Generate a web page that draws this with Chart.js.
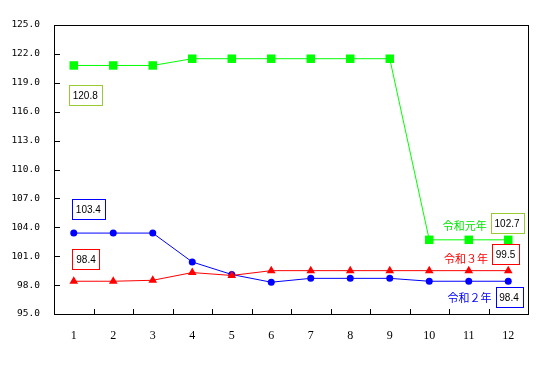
<!DOCTYPE html>
<html>
<head>
<meta charset="utf-8">
<script src="https://cdn.jsdelivr.net/npm/chart.js@4"></script>
<style>
  html, body { margin: 0; padding: 0; background: #fff; }
  #wrap { width: 547px; height: 375px; }
</style>
</head>
<body>
<div id="wrap"><canvas id="myLineChart"></canvas></div>
<script>
// data
var months = ['1', '2', '3', '4', '5', '6', '7', '8', '9', '10', '11', '12'];
var reiwa1 = [120.8, 120.8, 120.8, 121.5, 121.5, 121.5, 121.5, 121.5, 121.5, 102.7, 102.7, 102.7];
var reiwa2 = [103.4, 103.4, 103.4, 100.4, 99.1, 98.3, 98.7, 98.7, 98.7, 98.4, 98.4, 98.4];
var reiwa3 = [98.4, 98.4, 98.5, 99.3, 99.0, 99.5, 99.5, 99.5, 99.5, 99.5, 99.5, 99.5];
var yMin = 95, yMax = 125, yStep = 3;

// value boxes and series names, anchored in data units (category index, value)
var valueBoxes = [
  { text: '120.8', x: 0.29, y: 117.7, color: '#99cc33' },
  { text: '103.4', x: 0.37, y: 105.9, color: '#0000ff' },
  { text: '98.4', x: 0.31, y: 100.7, color: '#ff0000' },
  { text: '102.7', x: 10.97, y: 104.45, color: '#99cc33' },
  { text: '99.5', x: 10.93, y: 101.18, color: '#ff0000' },
  { text: '98.4', x: 11.02, y: 96.76, color: '#0000ff' }
];
var seriesNames = [
  { text: '令和元年', x: 9.9, y: 104.14, color: '#00e600' },
  { text: '令和３年', x: 9.93, y: 100.71, color: '#ff0000' },
  { text: '令和２年', x: 10.02, y: 96.66, color: '#0000ff' }
];

// frame, inward tick marks and the text boxes
var framePlugin = {
  id: 'frame',
  afterDraw: function(chart) {
    var ctx = chart.ctx, a = chart.chartArea;
    var xs = chart.scales.x, ys = chart.scales.y;
    ctx.save();
    ctx.strokeStyle = '#000';
    ctx.lineWidth = 1;
    ctx.strokeRect(Math.round(a.left) + 0.5, Math.round(a.top) + 0.5,
      Math.round(a.right - a.left), Math.round(a.bottom - a.top));
    ctx.beginPath();
    ys.ticks.forEach(function(t) {
      var py = Math.round(ys.getPixelForValue(t.value)) + 0.5;
      ctx.moveTo(a.left, py);
      ctx.lineTo(a.left + 6, py);
    });
    for (var i = 1; i < months.length; i++) {
      var px = Math.round((xs.getPixelForTick(i - 1) + xs.getPixelForTick(i)) / 2) + 0.5;
      ctx.moveTo(px, a.bottom);
      ctx.lineTo(px, a.bottom - 5);
    }
    ctx.stroke();

    ctx.textAlign = 'center';
    ctx.textBaseline = 'middle';
    ctx.font = '10px "Liberation Sans", Arial, sans-serif';
    valueBoxes.forEach(function(b) {
      var cx = xs.getPixelForValue(b.x), cy = ys.getPixelForValue(b.y);
      var w = Math.round(ctx.measureText(b.text).width + 8), h = 20;
      var bx = Math.round(cx - w / 2) + 0.5, by = Math.round(cy - h / 2) + 0.5;
      ctx.fillStyle = '#fff';
      ctx.fillRect(bx, by, w, h);
      ctx.strokeStyle = b.color;
      ctx.strokeRect(bx, by, w, h);
      ctx.fillStyle = '#000';
      ctx.fillText(b.text, cx, cy + 1);
    });
    ctx.font = '11px "Noto Sans CJK JP", sans-serif';
    seriesNames.forEach(function(s) {
      ctx.fillStyle = s.color;
      ctx.fillText(s.text, xs.getPixelForValue(s.x), ys.getPixelForValue(s.y));
    });
    ctx.restore();
  }
};

document.addEventListener('DOMContentLoaded', function() {
  var ctx = document.getElementById('myLineChart');
  new Chart(ctx, {
    type: 'line',
    data: {
      labels: months,
      datasets: [{
        label: '令和３年',
        data: reiwa3,
        borderColor: '#ff0000',
        backgroundColor: '#ff0000',
        borderWidth: 1,
        pointStyle: 'triangle',
        pointRadius: 5,
        pointBorderWidth: 0,
        tension: 0
      }, {
        label: '令和２年',
        data: reiwa2,
        borderColor: '#0000ff',
        backgroundColor: '#0000ff',
        borderWidth: 1,
        pointStyle: 'circle',
        pointRadius: 3.5,
        pointBorderWidth: 0,
        tension: 0
      }, {
        label: '令和元年',
        data: reiwa1,
        borderColor: '#00ff00',
        backgroundColor: '#00ff00',
        borderWidth: 1,
        pointStyle: 'rect',
        pointRadius: 6,
        pointBorderWidth: 0,
        tension: 0
      }]
    },
    options: {
      responsive: true,
      maintainAspectRatio: false,
      animation: false,
      layout: { padding: { top: 25, right: 19, left: 0, bottom: 0 } },
      plugins: {
        legend: { display: false },
        tooltip: { enabled: false }
      },
      scales: {
        x: {
          offset: true,
          grid: { display: false, drawTicks: false },
          border: { display: false },
          ticks: {
            padding: 15,
            color: '#000',
            font: { family: '"Liberation Serif", "Times New Roman", serif', size: 12 }
          },
          afterFit: function(scale) { scale.height = 61; }
        },
        y: {
          min: yMin,
          max: yMax,
          grid: { display: false, drawTicks: false },
          border: { display: false },
          ticks: {
            stepSize: yStep,
            padding: 14,
            color: '#000',
            font: { family: '"DejaVu Sans Mono", monospace', size: 9.5 },
            callback: function(v) { return Number(v).toFixed(1); }
          },
          afterFit: function(scale) { scale.width = 54; }
        }
      }
    },
    plugins: [framePlugin]
  });
});
</script>
</body>
</html>
